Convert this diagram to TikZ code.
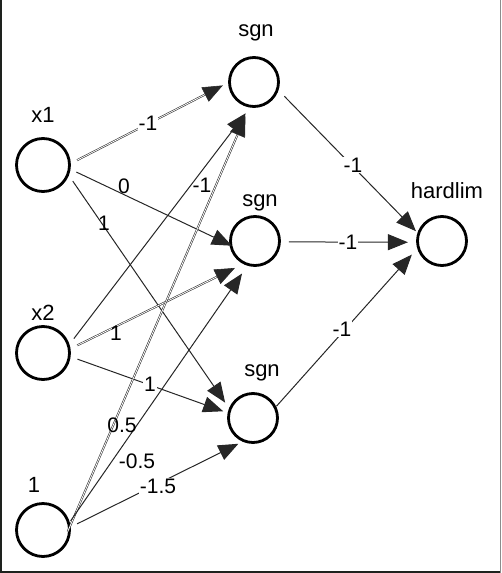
\documentclass[tikz,border=0pt]{standalone}
\usepackage{fontspec}
\setmainfont{Liberation Sans}
\usetikzlibrary{arrows.meta}
\definecolor{frame}{HTML}{1E221E}
\begin{document}
\begin{tikzpicture}[x=1pt,y=-1pt,
  neuron/.style={circle,draw=black,line width=2.8pt,inner sep=0pt,outer sep=0pt,minimum size=#1},
  wt/.style={font=\fontsize{21}{21}\selectfont, inner sep=1pt},
  wtb/.style={wt, fill=white},
  ttl/.style={font=\fontsize{22}{22}\selectfont, anchor=base},
  edge/.style={draw=black!85, line width=1pt, -{Triangle[length=20pt,width=16pt]}},
  dbl/.style={edge, double=white, double distance=0.8pt, line width=0.55pt}]
\useasboundingbox (0,0) rectangle (501,573);
\draw[frame, line width=2.4pt] (0.5,0) -- (0.5,573);
\draw[frame, line width=2.4pt] (0,572) -- (501,572);
\draw[black!45, line width=0.8pt] (500.3,0) -- (500.3,573);

% neurons
\node[neuron=53pt] (x1) at (43,165) {};
\node[neuron=53pt] (x2) at (43,353) {};
\node[neuron=53pt] (b)  at (43,530) {};
\node[neuron=49pt] (s1) at (254,82) {};
\node[neuron=49pt] (s2) at (255,241) {};
\node[neuron=49pt] (s3) at (253,418) {};
\node[neuron=49pt] (h)  at (442,241) {};

% titles
\node[ttl] (tx1) at (43,122) {x1};
\node[ttl] (tx2) at (43,320) {x2};
\node[ttl] (tb)  at (34,492) {1};
\node[ttl] (ts1) at (256,36) {sgn};
\node[ttl] (ts2) at (260,206) {sgn};
\node[ttl] (ts3) at (262,376) {sgn};
\node[ttl] (th)  at (447,198) {hardlim};

% connectors
\draw[dbl,  shorten <=8.5pt, shorten >=7.5pt]  (x1.2)   -- (s1.180);
\draw[edge, shorten <=7.9pt, shorten >=-1.1pt] (x1.352) -- (s2.190);
\draw[edge, shorten <=8.6pt, shorten >=8.5pt]  (x1.340) -- (s3.160);
\draw[edge, shorten <=8.9pt, shorten >=8.7pt]  (x2.16)  -- (s1.263);
\draw[dbl,  shorten <=8.9pt, shorten >=10.8pt] (x2.8)   -- (s2.245);
\draw[edge, shorten <=8.7pt, shorten >=6.1pt]  (x2.353) -- (s3.169);
\draw[dbl,  shorten <=-4.4pt, shorten >=11pt]  (b.5)    -- (s1.260);
\draw[edge, shorten <=3.3pt, shorten >=10.9pt] (b.14)   -- (s2.254);
\draw[edge, shorten <=8.6pt, shorten >=6.5pt]  (b.5)    -- (s3.249);
\draw[edge, shorten <=10pt, shorten >=3.7pt]   (s1.343) -- (h.163);
\draw[edge, shorten <=9.5pt, shorten >=9.6pt]  (s2.358) -- (h.183);
\draw[edge, shorten <=1.9pt, shorten >=9.7pt]  (s3.25)  -- (h.195);

% weights
\node[wtb] (w1)  at (148,123) {-1};
\node[wt]  (w2)  at (124,186) {0};
\node[wt]  (w3)  at (104,223) {1};
\node[wt]  (w4)  at (202,185) {-1};
\node[wt]  (w5)  at (116,333) {1};
\node[wtb] (w6)  at (150,384) {1};
\node[wt]  (w7)  at (122,425) {0.5};
\node[wt]  (w8)  at (137,461) {-0.5};
\node[wtb] (w9)  at (158,486) {-1.5};
\node[wtb] (w10) at (353,165) {-1};
\node[wtb] (w11) at (348,242) {-1};
\node[wtb] (w12) at (342,329) {-1};
\end{tikzpicture}
\end{document}
